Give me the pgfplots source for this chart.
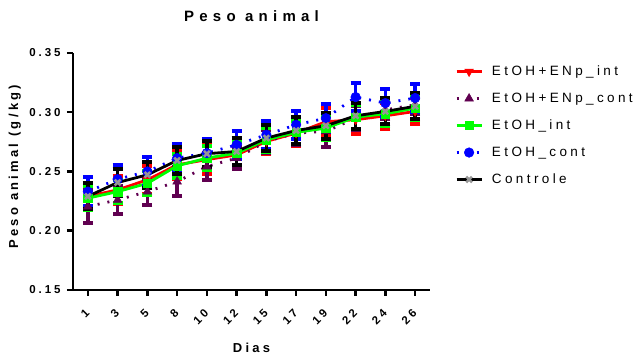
\documentclass[border=0pt]{standalone}
\usepackage{pgfplots}
\pgfplotsset{compat=1.18}
\usepackage{pgfplotstable}
\usepackage{fontspec}
\setmainfont{Liberation Sans}
\newfontfamily\spfont[LetterSpace=25]{Liberation Sans}
\newfontfamily\tifont[LetterSpace=35]{Liberation Sans}
\definecolor{cred}{RGB}{255,0,0}
\definecolor{cpurple}{RGB}{96,0,80}
\definecolor{cgreen}{RGB}{0,255,0}
\definecolor{cblue}{RGB}{0,0,255}
\definecolor{cgray}{RGB}{150,150,150}
\pgfplotstableread{
x r re p pe g ge b be k ke
0  0.2290 0.010 0.2204 0.014 0.2275 0.010 0.2330 0.012 0.2290 0.011
1  0.2345 0.012 0.2260 0.012 0.2330 0.010 0.2435 0.012 0.2407 0.011
2  0.2430 0.012 0.2330 0.011 0.2400 0.010 0.2500 0.012 0.2472 0.011
3  0.2556 0.012 0.2415 0.012 0.2548 0.010 0.2613 0.012 0.2593 0.011
4  0.2600 0.012 0.2542 0.011 0.2613 0.010 0.2655 0.012 0.2650 0.011
5  0.2640 0.011 0.2613 0.009 0.2655 0.010 0.2725 0.012 0.2669 0.011
6  0.2754 0.011 0.2754 0.010 0.2768 0.010 0.2810 0.012 0.2782 0.011
7  0.2824 0.011 0.2824 0.010 0.2830 0.010 0.2894 0.012 0.2846 0.011
8  0.2920 0.012 0.2838 0.013 0.2866 0.010 0.2950 0.012 0.2886 0.011
9  0.2937 0.012 0.2950 0.010 0.2959 0.010 0.3128 0.012 0.2970 0.011
10 0.2970 0.011 0.3020 0.008 0.2987 0.010 0.3077 0.012 0.3007 0.011
11 0.3007 0.011 0.3063 0.008 0.3035 0.010 0.3120 0.012 0.3050 0.011
}\data
\begin{document}
\begin{tikzpicture}
\useasboundingbox (-73pt,-65pt) rectangle (562pt,290pt);
\begin{axis}[
  at={(0pt,0pt)}, anchor=south west,
  width=357pt, height=237pt, scale only axis,
  xmin=-0.5, xmax=11.5, ymin=0.15, ymax=0.35,
  axis lines*=left,
  axis line style={line width=2.5pt, black},
  xtick={0,...,11},
  xticklabels={1,3,5,8,10,12,15,17,19,22,24,26},
  ytick={0.15,0.20,0.25,0.30,0.35},
  tick align=outside, major tick length=6pt,
  tick style={line width=2.5pt, black},
  /pgf/number format/assume math mode=true,
  ticklabel style={font=\fontsize{11.5}{13}\selectfont\spfont\bfseries},
  yticklabel style={xshift=-3pt, /pgf/number format/fixed, /pgf/number format/fixed zerofill, /pgf/number format/precision=2},
  xticklabel style={anchor=east, yshift=-13pt, xshift=2pt, rotate=45},
  title={Peso animal},
  title style={font=\fontsize{15}{17}\selectfont\tifont\bfseries, at={(0.5,1)}, anchor=base, yshift=25pt},
  xlabel={Dias},
  xlabel style={font=\fontsize{13}{15}\selectfont\spfont\bfseries, at={(axis description cs:0.5,0)}, anchor=center, yshift=-58pt},
  ylabel={Peso animal (g/kg)},
  ylabel style={font=\fontsize{13}{15}\selectfont\spfont\bfseries, at={(axis description cs:-0.163,0.52)}, anchor=center},
  legend image code/.code={\draw[mark repeat=2,mark phase=2,#1] plot coordinates {(0pt,0pt) (12.5pt,0pt) (25pt,0pt)};},
  legend style={at={(1.07,0.95)}, anchor=north west, draw=none, fill=none,
    inner sep=0pt, row sep=14pt,
    font=\fontsize{13.5}{15}\selectfont\spfont,
    nodes={inner sep=0pt, text height=10pt, text depth=3pt},
    /tikz/every odd column/.append style={column sep=9pt}},
  legend cell align=left,
  every axis plot/.append style={line width=2.8pt},
  error bars/y dir=both, error bars/y explicit,
]
\addplot+[cred, mark=triangle*, mark options={rotate=180, solid, fill=cred, draw=cred, line width=0.5pt, mark size=5pt}, error bars/error bar style={cred, solid, line width=3.5pt}, error bars/error mark options={rotate=90, mark size=5pt, line width=4pt, solid, cred}]
  table[x=x, y=r, y error=re] {\data};
\addlegendentry{EtOH+ENp\_int}
\addplot+[cpurple, dash pattern=on 2pt off 8pt, mark=triangle*, mark options={solid, fill=cpurple, draw=cpurple, line width=0.5pt, mark size=5pt}, error bars/error bar style={cpurple, solid, line width=3.5pt}, error bars/error mark options={rotate=90, mark size=5pt, line width=4pt, solid, cpurple}]
  table[x=x, y=p, y error=pe] {\data};
\addlegendentry{EtOH+ENp\_cont}
\addplot+[cgreen, mark=square*, mark options={solid, fill=cgreen, draw=cgreen, line width=0.5pt, mark size=4.2pt}, error bars/error bar style={cgreen, solid, line width=3.5pt}, error bars/error mark options={rotate=90, mark size=5pt, line width=4pt, solid, cgreen}]
  table[x=x, y=g, y error=ge] {\data};
\addlegendentry{EtOH\_int}
\addplot+[cblue, dash pattern=on 2pt off 8pt, mark=*, mark options={solid, fill=cblue, draw=cblue, line width=0.5pt, mark size=4.8pt}, error bars/error bar style={cblue, solid, line width=3.5pt}, error bars/error mark options={rotate=90, mark size=5pt, line width=4pt, solid, cblue}]
  table[x=x, y=b, y error=be] {\data};
\addlegendentry{EtOH\_cont}
\addplot+[black, mark=x, mark options={solid, draw=cgray, line width=2.5pt, mark size=4pt}, error bars/error bar style={black, solid, line width=3.5pt}, error bars/error mark options={rotate=90, mark size=5pt, line width=4pt, solid, black}]
  table[x=x, y=k, y error=ke] {\data};
\addlegendentry{Controle}
\end{axis}
\end{tikzpicture}
\end{document}
